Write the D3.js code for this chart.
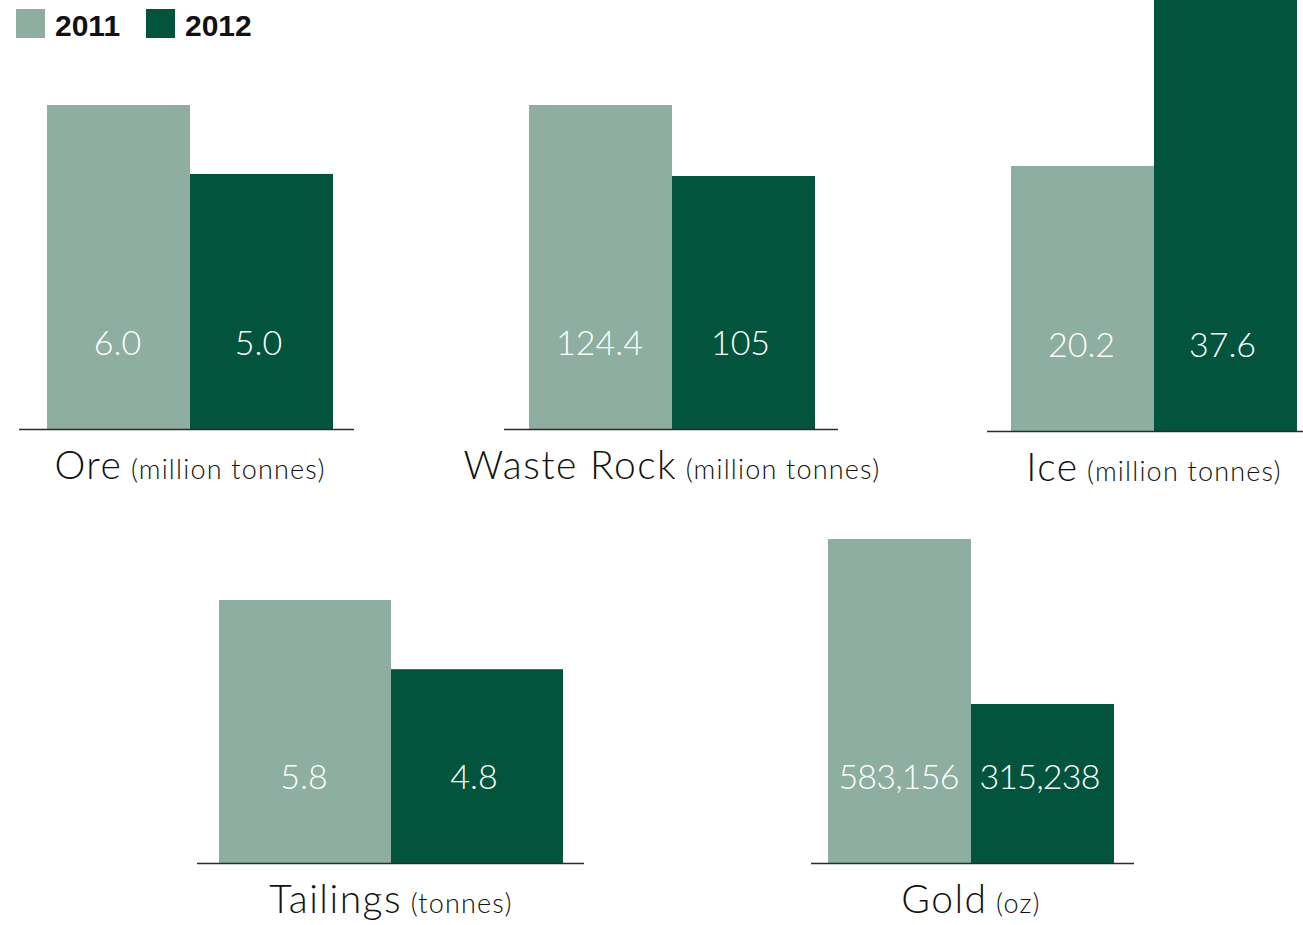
<!DOCTYPE html>
<html>
<head>
<meta charset="utf-8">
<script src="https://cdn.jsdelivr.net/npm/d3@7"></script>
<style>
  html, body { margin: 0; padding: 0; background: #ffffff; }
  svg { display: block; }
</style>
</head>
<body>
<svg id="chart" width="1303" height="925"></svg>
<script>
// ---- data ----
const categories = ["Ore", "Waste Rock", "Ice", "Tailings", "Gold"];
const units = ["(million tonnes)", "(million tonnes)", "(million tonnes)", "(tonnes)", "(oz)"];
const years = ["2011", "2012"];
const values2011 = [6.0, 124.4, 20.2, 5.8, 583156];
const values2012 = [5.0, 105, 37.6, 4.8, 315238];
const valueLabels2011 = ["6.0", "124.4", "20.2", "5.8", "583,156"];
const valueLabels2012 = ["5.0", "105", "37.6", "4.8", "315,238"];

// ---- layout (one small panel per category) ----
const colors = { "2011": "#8daea0", "2012": "#02543c" };
const panelCenter = [190, 672, 1154, 391, 971];
const panelBase = [429, 429, 431, 863, 863];
const panelBarW = [143, 143, 143, 172, 143];
const panelLine = [[19, 354], [504, 838], [987, 1310], [197, 584], [811, 1134]];
// each panel keeps its own value axis: [domain floor, domain top] -> [baseline, top y]
const panelDomain = [[1.3, 6.0], [35.9, 124.4], [0, 20.2], [2.0, 5.8], [57000, 583156]];
const panelTopY = [105, 105, 166, 600, 539];

const svg = d3.select("#chart");

categories.forEach((cat, i) => {
  const g = svg.append("g").attr("class", "panel");
  const cx = panelCenter[i];
  const base = panelBase[i];
  const bw = panelBarW[i];

  const x = d3.scaleBand()
    .domain(years)
    .range([cx - bw, cx + bw])
    .paddingInner(0).paddingOuter(0);

  const y = d3.scaleLinear()
    .domain(panelDomain[i])
    .range([base, panelTopY[i]]);

  const rows = [
    { year: "2011", value: values2011[i], label: valueLabels2011[i] },
    { year: "2012", value: values2012[i], label: valueLabels2012[i] }
  ];

  g.selectAll("rect.bar")
    .data(rows)
    .join("rect")
    .attr("class", "bar")
    .attr("x", d => x(d.year))
    .attr("width", x.bandwidth())
    .attr("y", d => y(d.value))
    .attr("height", d => base - y(d.value))
    .attr("fill", d => colors[d.year]);

  // baseline
  g.append("line")
    .attr("x1", panelLine[i][0]).attr("x2", panelLine[i][1])
    .attr("y1", base + 0.5).attr("y2", base + 0.5)
    .attr("stroke", "#2b2b2b").attr("stroke-width", 1.5);

  // value labels inside the bars
  g.selectAll("text.val")
    .data(rows)
    .join("text")
    .attr("class", "val")
    .attr("x", d => x(d.year) + x.bandwidth() / 2 - (d.year === "2012" ? 3 : 1))
    .attr("y", base - 74)
    .attr("text-anchor", "middle")
    .attr("fill", "#ffffff")
    .attr("font-family", "Lato, 'Noto Sans', sans-serif")
    .attr("font-weight", 300)
    .attr("font-size", 34)
    .attr("letter-spacing", d => d.label.length > 5 ? -0.8 : 0)
    .text(d => d.label);

  // category title with unit
  const t = g.append("text")
    .attr("x", cx)
    .attr("y", base + 50)
    .attr("text-anchor", "middle")
    .attr("fill", "#111111")
    .attr("font-family", "Lato, 'Noto Sans', sans-serif")
    .attr("font-weight", 300);
  t.append("tspan").attr("font-size", 39).attr("letter-spacing", 1.5).text(cat);
  t.append("tspan").attr("font-size", 27).attr("letter-spacing", 1.2).text(" " + units[i]);
});

// ---- legend ----
const legend = svg.append("g").attr("class", "legend");
const legendX = [16, 146];
years.forEach((yr, k) => {
  legend.append("rect")
    .attr("x", legendX[k]).attr("y", 9)
    .attr("width", 29).attr("height", 29)
    .attr("fill", colors[yr]);
  legend.append("text")
    .attr("x", legendX[k] + 39).attr("y", 36)
    .attr("font-family", "'Liberation Sans', Arial, sans-serif")
    .attr("font-weight", 700)
    .attr("font-size", 30)
    .attr("fill", "#111111")
    .text(yr);
});
</script>
</body>
</html>
